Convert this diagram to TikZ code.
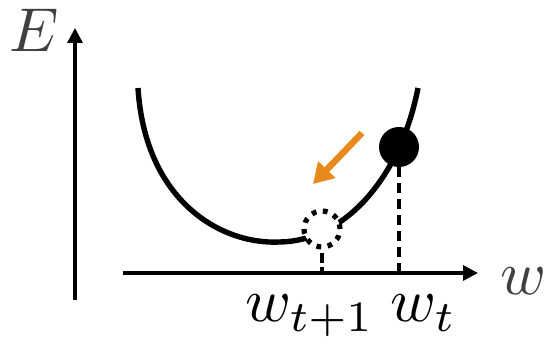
\documentclass[tikz,border=0pt]{standalone}
\usetikzlibrary{arrows.meta}
\definecolor{gdorange}{HTML}{E8891C}
\definecolor{labelgray}{HTML}{404040}
\newcommand{\biglabel}[1]{\scalebox{6.2}{$#1$}}
\tikzset{
  axis/.style={line width=3.3pt,-{Triangle[length=15pt,width=15pt]}},
  curve/.style={line width=5.4pt},
  guide/.style={line width=3.3pt,dash pattern=on 10pt off 6pt},
  lbl/.style={anchor=base west,inner sep=0pt},
}
\begin{document}
\begin{tikzpicture}[x=1pt,y=-1pt]
\useasboundingbox (0,0) rectangle (546,344);
% axes
\coordinate (ybot) at (75,300);
\coordinate (ytop) at (75,28);
\coordinate (xleft) at (123,273);
\coordinate (xright) at (478,273);
\draw[axis] (ybot) -- (ytop);
\draw[axis] (xleft) -- (xright);
% curve
\coordinate (cl) at (138,88);
\coordinate (cm) at (280,242);
\coordinate (cr) at (418,88);
\draw[curve] (cl) .. controls (145,200) and (220,245) .. (cm)
                  .. controls (343,241) and (400,180) .. (cr);
% points
\node[circle,fill=black,minimum size=40pt,inner sep=0pt] (wt) at (399,147) {};
\node[circle,fill=white,draw=black,line width=5.2pt,dash pattern=on 4.8pt off 6.5pt,minimum size=36pt,inner sep=0pt] (wt1) at (322,229) {};
% guides
\coordinate (ft) at (399,273);
\coordinate (ft1) at (322,273);
\draw[guide] (wt.south) -- (ft);
\draw[guide,dash pattern=on 10pt off 4pt] (wt1.south) ++(0,3) -- (ft1);
% gradient arrow
\coordinate (ga) at (362,133);
\coordinate (gb) at (313,184);
\draw[gdorange,line width=6.5pt,-{Triangle[length=20pt,width=23pt]}] (ga) -- (gb);
% labels
\node[lbl,text=labelgray] (E) at (9,52) {\biglabel{E}};
\node[lbl,text=labelgray] (W) at (500,295) {\biglabel{w}};
\node[lbl] (l1) at (245,322) {\biglabel{w_{t+1}}};
\node[lbl] (l2) at (390,322) {\biglabel{w_t}};
\end{tikzpicture}
\end{document}
